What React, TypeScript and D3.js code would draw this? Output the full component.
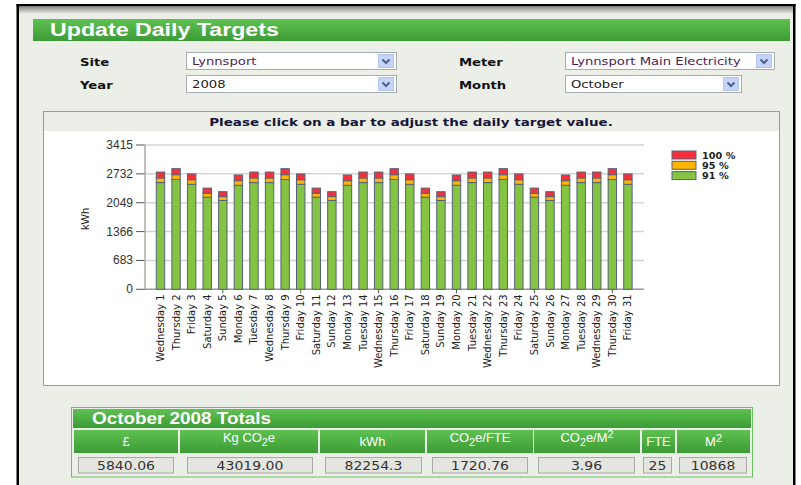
import React from "react";
import * as d3 from "d3";

// ---- data ----
const days = [
  "Wednesday 1", "Thursday 2", "Friday 3", "Saturday 4", "Sunday 5", "Monday 6", "Tuesday 7",
  "Wednesday 8", "Thursday 9", "Friday 10", "Saturday 11", "Sunday 12", "Monday 13", "Tuesday 14",
  "Wednesday 15", "Thursday 16", "Friday 17", "Saturday 18", "Sunday 19", "Monday 20", "Tuesday 21",
  "Wednesday 22", "Thursday 23", "Friday 24", "Saturday 25", "Sunday 26", "Monday 27", "Tuesday 28",
  "Wednesday 29", "Thursday 30", "Friday 31",
];
// daily target (100 %) in kWh
const targets = [
  2775, 2855, 2730, 2395, 2310, 2705, 2775,
  2775, 2855, 2730, 2395, 2310, 2705, 2775,
  2775, 2855, 2730, 2395, 2310, 2705, 2775,
  2775, 2855, 2730, 2395, 2310, 2705, 2775,
  2775, 2855, 2730,
];
const levelPcts = [91, 95, 100];
const levelLabels = ["91 %", "95 %", "100 %"];
const yTicks = [0, 683, 1366, 2049, 2732, 3415];
const xTickDays = ["Sunday 5", "Friday 10", "Wednesday 15", "Monday 20", "Saturday 25", "Thursday 30"];

const pageTitle = "Update Daily Targets";
const chartTitle = "Please click on a bar to adjust the daily target value.";
const yLabel = "kWh";
const tableTitle = "October 2008 Totals";
const tableHeaders: [string, string][][] = [
  [["£", ""]],
  [["Kg CO", ""], ["2", "sub"], ["e", ""]],
  [["kWh", ""]],
  [["CO", ""], ["2", "sub"], ["e/FTE", ""]],
  [["CO", ""], ["2", "sub"], ["e/M", ""], ["2", "sup"]],
  [["FTE", ""]],
  [["M", ""], ["2", "sup"]],
];
const tableValues = ["5840.06", "43019.00", "82254.3", "1720.76", "3.96", "25", "10868"];

const formLabels = ["Site", "Year", "Meter", "Month"];
const formValues = ["Lynnsport", "2008", "Lynnsport Main Electricity", "October"];

// ---- styles ----
const levelColors = ["#84c442", "#ffb400", "#f6303a"];
const panelBg = "#eceee8";
const verdana = "'DejaVu Sans', Verdana, sans-serif";
const arial = "'Liberation Sans', Arial, sans-serif";

const colX: [number, number][] = [[74, 178], [180, 318], [320, 425], [427, 533], [534, 640], [642, 675], [677, 750]];
const boxX: [number, number][] = [[78, 173], [187, 312], [325, 421], [432, 527], [538, 634], [643, 671], [679, 746]];
const selects = [
  { x: 186, y: 52, w: 210 },
  { x: 186, y: 75, w: 210 },
  { x: 565, y: 52, w: 209 },
  { x: 565, y: 75, w: 176 },
];
const labelPos = [
  { x: 80, y: 65.5 },
  { x: 80, y: 88.5 },
  { x: 459, y: 65.5 },
  { x: 459, y: 88.5 },
];

// text stretched horizontally (the reference is widened)
function SText({ x, y, sx, anchor, children, ...rest }: any) {
  return (
    <text transform={`translate(${x},${y}) scale(${sx},1)`} textAnchor={anchor || "start"} {...rest}>
      {children}
    </text>
  );
}

function Select({ x, y, w, text, color }: { x: number; y: number; w: number; text: string; color: string }) {
  const bx = x + w - 18;
  return (
    <g>
      <rect x={x + 0.5} y={y + 0.5} width={w} height={17} fill="#fff" stroke="#a5acb2" />
      <SText x={x + 6} y={y + 13} sx={1.2} fontFamily={verdana} fontSize={11} fill={color}>{text}</SText>
      <rect x={bx + 0.5} y={y + 2.5} width={15} height={13} fill="#c5d4fb" stroke="#b4c5ee" />
      <path d={`M${bx + 4.5},${y + 7.5} L${bx + 8},${y + 11} L${bx + 11.5},${y + 7.5}`} fill="none" stroke="#4d6185" strokeWidth={2} />
    </g>
  );
}

export default function App() {
  const x = d3.scaleBand<string>().domain(days).range([152.7, 635.7]);
  const y = d3.scaleLinear().domain([0, 3415]).range([289.3, 145]);
  const barW = 8.4;
  const plotL = 145, plotR = 644;

  return (
    <div style={{ position: "absolute", left: 0, top: 0 }}>
      <svg width={801} height={485} style={{ display: "block" }}>
        <defs>
          <linearGradient id="hdr" x1="0" y1="0" x2="0" y2="1">
            <stop offset="0" stopColor="#5fc152" />
            <stop offset="1" stopColor="#3c9b35" />
          </linearGradient>
          <linearGradient id="shadow" x1="0" y1="0" x2="0" y2="1">
            <stop offset="0" stopColor="#8f8f8f" />
            <stop offset="1" stopColor={panelBg} />
          </linearGradient>
        </defs>
        <rect width={801} height={485} fill="#fff" />
        {/* page panel */}
        <rect x={19} y={7} width={774} height={478} fill={panelBg} />
        <rect x={19} y={7} width={774} height={7} fill="url(#shadow)" />
        <rect x={16.5} y={4} width={779} height={2.5} fill="#000" />
        <rect x={16.5} y={4} width={2.5} height={481} fill="#000" />
        <rect x={793} y={4} width={2.5} height={481} fill="#000" />

        {/* title bar */}
        <rect x={33} y={19} width={757} height={22} fill="url(#hdr)" />
        <SText x={50} y={35.7} sx={1.22} fontFamily={arial} fontWeight="bold" fontSize={19} fill="#fff">{pageTitle}</SText>

        {/* form */}
        {formLabels.map((l, i) => (
          <SText key={l} x={labelPos[i].x} y={labelPos[i].y} sx={1.2} fontFamily={verdana} fontWeight="bold" fontSize={11} fill="#111">{l}</SText>
        ))}
        {selects.map((s, i) => (
          <Select key={i} x={s.x} y={s.y} w={s.w} text={formValues[i]} color={i % 2 === 0 ? "#4a1d55" : "#222"} />
        ))}

        {/* chart panel */}
        <rect x={43.5} y={111.5} width={736} height={274} fill="#fff" stroke="#6cbf63" />
        <rect x={44} y={112} width={735} height={19} fill={panelBg} />
        <SText x={411} y={126} sx={1.25} anchor="middle" fontFamily={verdana} fontWeight="bold" fontSize={10.8} fill="#161638">
          {chartTitle}
        </SText>

        {/* grid */}
        {yTicks.map((t) => (
          <g key={t}>
            {t > 0 && <line x1={plotL} x2={plotR} y1={y(t)} y2={y(t)} stroke="#d3d3d3" strokeWidth={1.5} />}
            <line x1={136} x2={plotL} y1={y(t)} y2={y(t)} stroke="#555" strokeWidth={1} />
            <text x={133} y={y(t) + 4} textAnchor="end" fontFamily={arial} fontSize={12} fill="#333">{t}</text>
          </g>
        ))}
        <line x1={plotL} x2={plotL} y1={y(3415)} y2={y(0)} stroke="#aaa" strokeWidth={1.5} />
        <line x1={plotL} x2={plotR} y1={y(0)} y2={y(0)} stroke="#999" strokeWidth={1.5} />
        {xTickDays.map((d) => (
          <line key={d} x1={x(d)! + x.bandwidth() / 2} x2={x(d)! + x.bandwidth() / 2} y1={y(0)} y2={y(0) + 4} stroke="#555" />
        ))}
        <text transform={`translate(89,219) rotate(-90)`} textAnchor="middle" fontFamily={arial} fontSize={11} fill="#222">{yLabel}</text>

        {/* bars */}
        {days.map((d, i) => {
          const cx = x(d)! + x.bandwidth() / 2;
          return (
            <g key={d}>
              {levelPcts.map((p, j) => {
                const v0 = j === 0 ? 0 : (targets[i] * levelPcts[j - 1]) / 100;
                const v1 = (targets[i] * p) / 100;
                return (
                  <rect key={j} x={cx - barW / 2} y={y(v1)} width={barW} height={y(v0) - y(v1)}
                    fill={levelColors[j]} stroke="#56627a" strokeWidth={1} />
                );
              })}
              <text transform={`translate(${cx + 3.5},${y(0) + 5}) rotate(-90)`} textAnchor="end"
                fontFamily={verdana} fontSize={10} fill="#222">{d}</text>
            </g>
          );
        })}

        {/* legend */}
        {[2, 1, 0].map((j, k) => (
          <g key={j}>
            <rect x={672} y={151 + k * 10.3} width={24} height={8} fill={levelColors[j]} stroke="#56627a" />
            <SText x={702} y={158.5 + k * 10.3} sx={1.08} fontFamily={verdana} fontWeight="bold" fontSize={9} fill="#222">{levelLabels[j]}</SText>
          </g>
        ))}

        {/* totals table */}
        <rect x={71.5} y={407.5} width={681} height={69.5} fill="none" stroke="#6cbf63" />
        <rect x={73} y={409} width={678} height={19} fill="url(#hdr)" />
        <SText x={92} y={424} sx={1.18} fontFamily={arial} fontWeight="bold" fontSize={16} fill="#fff">{tableTitle}</SText>
        {tableHeaders.map((parts, i) => {
          const [a, b] = colX[i];
          const hasSub = parts.some((p) => p[1] === "sub");
          return (
            <g key={i}>
              <rect x={a} y={430} width={b - a} height={23} fill="url(#hdr)" />
              <SText x={(a + b) / 2} y={hasSub ? 442 : 446} sx={1.08} anchor="middle" fontFamily={arial} fontSize={12} fill="#fff">
                {parts.map((p, k) =>
                  p[1] === "sub" ? (
                    <tspan key={k} fontSize={10} dy={4}>{p[0]}</tspan>
                  ) : p[1] === "sup" ? (
                    <tspan key={k} fontSize={10} dy={-4}>{p[0]}</tspan>
                  ) : (
                    <tspan key={k} dy={k > 0 && parts[k - 1][1] === "sub" ? -4 : k > 0 && parts[k - 1][1] === "sup" ? 4 : 0}>{p[0]}</tspan>
                  )
                )}
              </SText>
            </g>
          );
        })}
        {tableValues.map((v, i) => {
          const [a, b] = boxX[i];
          return (
            <g key={i}>
              <rect x={a + 0.5} y={457.5} width={b - a} height={15.5} fill="#e5e5df" stroke="#a8a8a8" />
              <SText x={(a + b) / 2 + 0.5} y={469.5} sx={1.22} anchor="middle" fontFamily={verdana} fontSize={11.5} fill="#333">{v}</SText>
            </g>
          );
        })}
      </svg>
    </div>
  );
}
